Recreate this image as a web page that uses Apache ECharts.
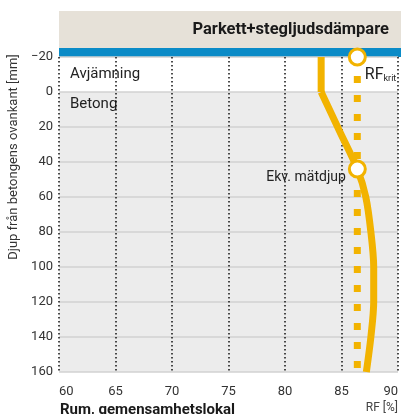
<!DOCTYPE html>
<html>
<head>
<meta charset="utf-8">
<script src="https://cdn.jsdelivr.net/npm/echarts@6/dist/echarts.min.js"></script>
<style>
html, body { margin: 0; padding: 0; background: #fff; }
#chart { width: 401px; height: 414px; }
</style>
</head>
<body>
<div id="chart"></div>
<script>
// djup [mm] och RF [%]
const avjDepth = [-20, 0]
const avjRF = [83.2, 83.2]
const betDepth = [0, 22, 44, 60, 80, 100, 120, 140, 160]
const betRF = [83.2, 84.8, 86.4, 87.15, 87.6, 87.85, 87.85, 87.6, 87.2]
const kritDepth = [-20, 160]
const rfKrit = 86.4
const ekvDepth = 44
const xTicks = [60, 65, 70, 75, 80, 85, 90]
const yTicks = [-20, 0, 20, 40, 60, 80, 100, 120, 140, 160]

const font = 'Roboto'
const yellow = '#f2b300'

const pairs = (xs, ys) => xs.map((x, i) => [x, ys[i]])

let chart = echarts.init(document.getElementById('chart'))
let option = {
  animation: false,
  textStyle: { fontFamily: font },
  grid: { left: 59, right: 3, top: 57, bottom: 42 },
  graphic: [
    { type: 'rect', shape: { x: 59, y: 11, width: 342, height: 37 }, style: { fill: '#e6e1d8' } },
    { type: 'rect', shape: { x: 59, y: 48, width: 342, height: 9 }, style: { fill: '#0a8bc7' } },
    {
      type: 'text', x: 389, y: 30,
      style: { text: 'Parkett+stegljudsdämpare', fontFamily: font, fontSize: 16.5, fontWeight: 'bold', fill: '#1a1a1a', textAlign: 'right', textVerticalAlign: 'middle' }
    },
    {
      type: 'text', x: 14, y: 157, rotation: Math.PI / 2,
      style: { text: 'Djup från betongens ovankant [mm]', fontFamily: font, fontSize: 13, fill: '#333', textAlign: 'center', textVerticalAlign: 'middle' }
    },
    {
      type: 'text', x: 60, y: 403,
      style: { text: 'Rum, gemensamhetslokal', fontFamily: font, fontSize: 15, fontWeight: 'bold', fill: '#1a1a1a', textAlign: 'left', textVerticalAlign: 'top' }
    },
    {
      type: 'text', x: 398, y: 408,
      style: { text: 'RF [%]', fontFamily: font, fontSize: 12, fill: '#444', textAlign: 'right', textVerticalAlign: 'middle' }
    }
  ],
  xAxis: {
    type: 'value',
    min: xTicks[0],
    max: xTicks[xTicks.length - 1],
    interval: 5,
    axisLine: { show: false },
    axisTick: { show: false },
    axisLabel: { fontSize: 13, color: '#333', margin: 13, alignMinLabel: 'left', alignMaxLabel: 'right' },
    splitLine: { show: true, lineStyle: { color: '#111', type: [1.5, 2.5], width: 1.5 } }
  },
  yAxis: {
    type: 'value',
    inverse: true,
    min: yTicks[0],
    max: yTicks[yTicks.length - 1],
    interval: 20,
    axisLine: { show: false },
    axisTick: { show: false },
    axisLabel: { fontSize: 13, color: '#333', margin: 6, formatter: v => String(v).replace('-', '\u2212') },
    splitLine: { show: true, lineStyle: { color: '#d2d2d2', width: 1.5 } }
  },
  series: [
    {
      type: 'line',
      z: 3,
      data: kritDepth.map(d => [rfKrit, d]),
      symbol: 'none',
      lineStyle: { color: yellow, width: 7, type: [7, 12], cap: 'butt' },
      markArea: {
        silent: true,
        z: -1,
        data: [
          [
            { yAxis: -20, name: 'Avjämning', itemStyle: { color: '#ffffff' },
              label: { show: true, position: 'insideLeft', distance: 11, fontSize: 15, color: '#222', fontFamily: font } },
            { yAxis: 0 }
          ],
          [
            { yAxis: 0, name: 'Betong', itemStyle: { color: '#ececec' },
              label: { show: true, position: 'insideTopLeft', distance: 0, offset: [11, 5], fontSize: 15, color: '#222', fontFamily: font } },
            { yAxis: 160 }
          ]
        ]
      }
    },
    {
      type: 'line',
      z: 4,
      data: pairs(avjRF, avjDepth),
      symbol: 'none',
      lineStyle: { color: yellow, width: 7, cap: 'butt' }
    },
    {
      type: 'line',
      z: 4,
      data: pairs(betRF, betDepth),
      symbol: 'none',
      smooth: 0.3,
      lineStyle: { color: yellow, width: 7, cap: 'butt', join: 'round' }
    },
    {
      type: 'scatter',
      z: 6,
      symbolSize: 16,
      itemStyle: { color: '#fff', borderColor: yellow, borderWidth: 3, opacity: 1 },
      data: [
        {
          value: [rfKrit, kritDepth[0]],
          label: {
            show: true, position: 'right', distance: 0, offset: [-2, 18],
            formatter: '{a|RF}{b|krit}',
            rich: {
              a: { fontSize: 16, color: '#222', fontFamily: font, lineHeight: 18 },
              b: { fontSize: 9, color: '#222', fontFamily: font, lineHeight: 18, padding: [8, 0, 0, 0] }
            }
          }
        },
        {
          value: [rfKrit, ekvDepth],
          label: {
            show: true, position: 'left', distance: 2, offset: [0, 8],
            formatter: 'Ekv. mätdjup', fontSize: 14, color: '#222', fontFamily: font
          }
        }
      ]
    }
  ]
}
chart.setOption(option)
</script>
</body>
</html>
